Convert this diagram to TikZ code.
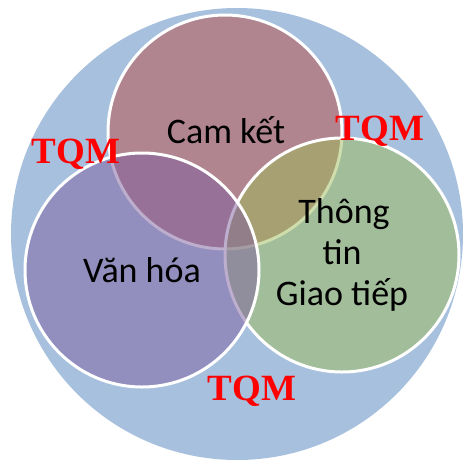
\documentclass[tikz,border=0pt]{standalone}
\usepackage{fontspec}
\setmainfont{Carlito}
\newfontfamily\tqmfont{Liberation Serif}
\definecolor{bigblue}{RGB}{167,192,222}
\definecolor{topc}{RGB}{185,76,68}
\definecolor{rightc}{RGB}{159,188,88}
\definecolor{leftc}{RGB}{127,94,158}
\definecolor{tqmred}{RGB}{255,0,0}
\tikzset{
  venn/.style={draw=white, line width=3pt, fill opacity=0.5},
  lbl/.style={font=\fontsize{36}{40}\selectfont, text=black, anchor=base, inner sep=0pt},
  tqm/.style={font=\tqmfont\bfseries\fontsize{37}{40}\selectfont, text=tqmred, anchor=base, inner sep=0pt}
}
\begin{document}
\begin{tikzpicture}[x=1pt,y=-1pt]
\useasboundingbox (0,0) rectangle (463,461);
\fill[bigblue] (237,234) circle (226);
\path[venn, fill=topc] (225,132) circle (117);
\path[venn, fill=rightc] (342,255) circle (117);
\path[venn, fill=leftc] (142,270) circle (117);
\node[lbl] (cam) at (226,143) {Cam kết};
\node[lbl] (van) at (142,282) {Văn hóa};
\node[lbl] (t1) at (344,223) {Thông};
\node[lbl] (t2) at (342,264) {tin};
\node[lbl] (t3) at (342,305) {Giao tiếp};
\node[tqm] (q1) at (76,163) {TQM};
\node[tqm] (q2) at (380,140) {TQM};
\node[tqm] (q3) at (252,400) {TQM};
\end{tikzpicture}
\end{document}
